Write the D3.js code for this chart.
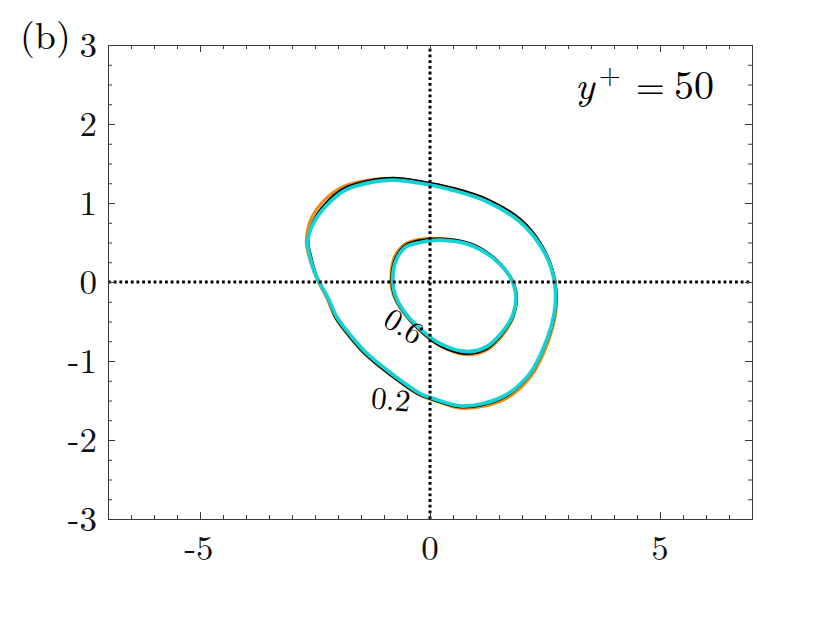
<!DOCTYPE html>
<html>
<head>
<meta charset="utf-8">
<script src="https://cdn.jsdelivr.net/npm/d3@7"></script>
</head>
<body style="margin:0">
<svg width="830" height="623"></svg>
<script>
// tick labels
const xTicks = [-5, 0, 5];
const yTicks = [-3, -2, -1, 0, 1, 2, 3];

// contour 0.2 (outer) and 0.6 (inner), three traces each
const outerCyan = [[-2.66, 0.51], [-2.54, 0.74], [-2.28, 0.95], [-1.85, 1.16], [-1.20, 1.27], [-0.80, 1.29], [-0.22, 1.25], [0.51, 1.16], [1.23, 1.02], [1.96, 0.76], [2.39, 0.47], [2.64, 0.17], [2.73, -0.12], [2.70, -0.40], [2.54, -0.73], [2.17, -1.16], [1.59, -1.45], [0.72, -1.57], [0.15, -1.49], [-0.22, -1.41], [-0.65, -1.24], [-1.38, -0.90], [-1.72, -0.68], [-2.03, -0.44], [-2.21, -0.21], [-2.39, -0.02], [-2.50, 0.11], [-2.61, 0.32]];
const outerBlack = [[-2.64, 0.51], [-2.55, 0.76], [-2.30, 0.98], [-1.86, 1.19], [-1.20, 1.30], [-0.80, 1.32], [-0.22, 1.28], [0.52, 1.19], [1.25, 1.05], [1.98, 0.79], [2.41, 0.49], [2.66, 0.17], [2.75, -0.12], [2.72, -0.40], [2.55, -0.74], [2.18, -1.17], [1.59, -1.47], [0.72, -1.59], [0.15, -1.51], [-0.23, -1.43], [-0.67, -1.26], [-1.40, -0.92], [-1.74, -0.70], [-2.05, -0.46], [-2.22, -0.22], [-2.38, -0.03], [-2.48, 0.11], [-2.58, 0.32]];
const outerOrange = [[-2.69, 0.51], [-2.60, 0.78], [-2.34, 1.01], [-1.88, 1.21], [-1.20, 1.30], [-0.80, 1.31], [-0.22, 1.27], [0.52, 1.18], [1.25, 1.03], [1.98, 0.76], [2.41, 0.46], [2.66, 0.16], [2.75, -0.12], [2.73, -0.41], [2.57, -0.76], [2.20, -1.19], [1.61, -1.49], [0.72, -1.60], [0.15, -1.51], [-0.23, -1.43], [-0.67, -1.26], [-1.40, -0.92], [-1.74, -0.70], [-2.05, -0.46], [-2.23, -0.22], [-2.40, -0.03], [-2.51, 0.11], [-2.63, 0.32]];

const innerCyan = [[-0.81, 0.05], [-0.72, 0.30], [-0.51, 0.45], [-0.22, 0.50], [0.22, 0.53], [0.87, 0.47], [1.38, 0.30], [1.65, 0.14], [1.81, -0.02], [1.87, -0.20], [1.80, -0.42], [1.59, -0.62], [1.23, -0.82], [0.80, -0.88], [0.22, -0.78], [-0.22, -0.59], [-0.58, -0.36], [-0.76, -0.16]];
const innerBlack = [[-0.84, 0.05], [-0.75, 0.31], [-0.53, 0.47], [-0.22, 0.53], [0.22, 0.55], [0.88, 0.49], [1.40, 0.31], [1.67, 0.14], [1.83, -0.02], [1.89, -0.20], [1.82, -0.43], [1.60, -0.64], [1.23, -0.85], [0.80, -0.91], [0.22, -0.81], [-0.23, -0.61], [-0.60, -0.37], [-0.79, -0.16]];
const innerOrange = [[-0.85, 0.05], [-0.77, 0.32], [-0.54, 0.48], [-0.22, 0.54], [0.22, 0.55], [0.87, 0.48], [1.39, 0.30], [1.66, 0.13], [1.82, -0.02], [1.88, -0.20], [1.82, -0.43], [1.61, -0.65], [1.24, -0.86], [0.80, -0.92], [0.22, -0.81], [-0.23, -0.61], [-0.60, -0.37], [-0.80, -0.16]];

const contourLabels = [
    { text: '0.2', x: -0.85, y: -1.49, angle: 6 },
    { text: '0.6', x: -0.57, y: -0.56, angle: 32 }
];

const svg = d3.select('svg').attr('font-family', 'Latin Modern Roman, Liberation Serif, serif');
const marg = { cima: 45, direita: 78, baixo: 104, esquerda: 108 };
const largura = +svg.attr('width') - marg.esquerda - marg.direita;
const altura = +svg.attr('height') - marg.cima - marg.baixo;

svg.append('rect').attr('width', 830).attr('height', 623).attr('fill', '#fff');

const x = d3.scaleLinear().domain([-7, 7]).range([0, largura]);
const y = d3.scaleLinear().domain([-3, 3]).range([altura, 0]);

const g = svg.append('g')
    .attr('transform', `translate(${marg.esquerda},${marg.cima})`);

const linha = d3.line()
    .x(d => x(d[0]))
    .y(d => y(d[1]))
    .curve(d3.curveCatmullRomClosed.alpha(0.5));

const traces = [
    { pts: outerOrange, cor: '#ee8a12', w: 3 },
    { pts: innerOrange, cor: '#ee8a12', w: 3 },
    { pts: outerBlack, cor: '#000', w: 2 },
    { pts: innerBlack, cor: '#000', w: 2 },
    { pts: outerCyan, cor: '#14d2d2', w: 3.8 },
    { pts: innerCyan, cor: '#14d2d2', w: 3.8 }
];

g.selectAll('path.contorno').data(traces)
    .enter().append('path')
        .attr('class', 'contorno')
        .attr('d', d => linha(d.pts))
        .attr('fill', 'none')
        .attr('stroke', d => d.cor)
        .attr('stroke-width', d => d.w)
        .attr('stroke-linejoin', 'round');

// dotted zero lines
const pontilhado = d3.line().x(d => x(d[0])).y(d => y(d[1]));
g.append('path').attr('d', pontilhado([[-7, 0], [7, 0]]));
g.append('path').attr('d', pontilhado([[0, -3], [0, 3]]));
g.selectAll('path:not(.contorno)')
    .attr('stroke', '#000')
    .attr('stroke-width', 3)
    .attr('stroke-dasharray', '2.8,2.9')
    .attr('fill', 'none');

// contour labels
g.selectAll('text.rotulo').data(contourLabels)
    .enter().append('text')
        .attr('class', 'rotulo')
        .attr('transform', d => `translate(${x(d.x)},${y(d.y)}) rotate(${d.angle})`)
        .attr('text-anchor', 'middle')
        .attr('dy', '0.33em')
        .attr('font-size', 31)
        .text(d => d.text);

// axes box with inward ticks
const corEixo = '#3a3a3a';
const xMinor = d3.range(-6.5, 7, 0.5).filter(v => !xTicks.includes(v));
const yMinor = d3.range(-2.75, 3, 0.25).filter(v => !yTicks.includes(v));

const eixo = (axis, vals, len, transf) => {
    const a = g.append('g')
        .attr('transform', transf)
        .call(axis.tickValues(vals).tickSize(len).tickFormat(''));
    a.select('.domain').attr('stroke', corEixo);
    a.selectAll('.tick line').attr('stroke', corEixo);
    return a;
};

eixo(d3.axisBottom(x), xTicks, -7, `translate(0,${altura})`);
eixo(d3.axisBottom(x), xMinor, -4, `translate(0,${altura})`);
eixo(d3.axisTop(x), xTicks, -7, 'translate(0,0)');
eixo(d3.axisTop(x), xMinor, -4, 'translate(0,0)');
eixo(d3.axisLeft(y), yTicks, -7, 'translate(0,0)');
eixo(d3.axisLeft(y), yMinor, -4, 'translate(0,0)');
eixo(d3.axisRight(y), yTicks, -7, `translate(${largura},0)`);
eixo(d3.axisRight(y), yMinor, -4, `translate(${largura},0)`);

g.selectAll('text.xt').data(xTicks)
    .enter().append('text')
        .attr('class', 'xt')
        .attr('x', d => x(d) - (d < 0 ? 1 : 0))
        .attr('y', altura + 41)
        .attr('text-anchor', 'middle')
        .attr('font-size', 35)
        .attr('fill', '#111')
        .text(d => d < 0 ? '-' + Math.abs(d) : d);

g.selectAll('text.yt').data(yTicks)
    .enter().append('text')
        .attr('class', 'yt')
        .attr('x', -11)
        .attr('y', d => y(d) + 11.5)
        .attr('text-anchor', 'end')
        .attr('font-size', 35)
        .attr('fill', '#111')
        .text(d => d < 0 ? '-' + Math.abs(d) : d);

// panel label and annotation
svg.append('text')
    .attr('x', 20)
    .attr('y', 49)
    .attr('font-size', 38)
    .text('(b)');

const anot = svg.append('text').attr('y', 99).attr('font-size', 40);
anot.append('tspan').attr('x', 575).attr('font-style', 'italic').text('y');
anot.append('tspan').attr('x', 599).attr('dy', -15).attr('font-size', 28).text('+');
anot.append('tspan').attr('x', 636).attr('dy', 15).attr('font-size', 37).text('=');
anot.append('tspan').attr('x', 674).text('50');
</script>
</body>
</html>
